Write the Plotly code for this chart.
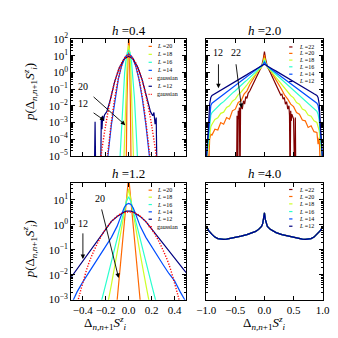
import plotly.graph_objects as go

FONT = "Liberation Serif"
W = H = 338

# ---------------- colours (jet over L = 12..22) ----------------
colors = {22: "#800000", 20: "#ff6800", 18: "#ceff29", 16: "#29ffce", 14: "#004dff", 12: "#000080"}
gauss_color = "#ff0000"

# ---------------- h = 0.4 (top-left), log10 p ----------------
x_h04_L20 = [-0.03, -0.02, -0.015, -0.01, -0.005, 0.0, 0.005, 0.01, 0.015, 0.02, 0.03]
lp_h04_L20 = [-7, -5.0, -1.8, 0.47, 1.84, 2.3, 1.84, 0.47, -1.8, -5.0, -7]
x_h04_L18 = [-0.05, -0.04, -0.035, -0.03, -0.02, -0.01, 0.0, 0.01, 0.02, 0.03, 0.035, 0.04, 0.05]
lp_h04_L18 = [-7, -5.0, -3.45, -2.1, -0.03, 1.22, 1.63, 1.22, -0.03, -2.1, -3.45, -5.0, -7]
x_h04_L16 = [-0.09, -0.075, -0.065, -0.05, -0.035, -0.025, -0.012, 0.0, 0.012, 0.025, 0.035, 0.05, 0.065, 0.075, 0.09]
lp_h04_L16 = [-7, -5.0, -3.44, -1.49, -0.04, 0.64, 1.19, 1.35, 1.19, 0.64, -0.04, -1.49, -3.44, -5.0, -7]
x_h04_L14 = [-0.2, -0.18, -0.15, -0.12, -0.09, -0.06, -0.03, 0.0, 0.03, 0.06, 0.09, 0.12, 0.15, 0.18, 0.2]
lp_h04_L14 = [-7, -4.99, -3.13, -1.61, -0.42, 0.42, 0.93, 1.12, 0.93, 0.42, -0.42, -1.61, -3.13, -4.99, -7]
x_h04_gauss14 = [-0.19, -0.18, -0.15, -0.12, -0.09, -0.06, -0.03, 0.0, 0.03, 0.06, 0.09, 0.12, 0.15, 0.18, 0.19]
lp_h04_gauss14 = [-5.42, -4.75, -2.97, -1.51, -0.38, 0.43, 0.92, 1.08, 0.92, 0.43, -0.38, -1.51, -2.97, -4.75, -5.42]
x_h04_L12 = [-0.3, -0.292, -0.285, -0.245, -0.238, -0.232, -0.226, -0.22, -0.21, -0.19, -0.16, -0.12, -0.08,
             -0.04, 0.0, 0.04, 0.08, 0.12, 0.16, 0.19, 0.21, 0.22, 0.23, 0.24, 0.248, 0.26]
lp_h04_L12 = [-7, -2.95, -7, -7, -2.7, -3.4, -2.6, -2.9, -2.55, -2.35, -1.65, -0.5, 0.3,
              0.8, 0.97, 0.8, 0.3, -0.5, -1.65, -2.35, -2.6, -2.4, -3.1, -2.7, -7, -7]
x_h04_gauss12 = [-0.26, -0.24, -0.2, -0.16, -0.12, -0.08, -0.04, 0.0, 0.04, 0.08, 0.12, 0.16, 0.2, 0.24, 0.26]
lp_h04_gauss12 = [-6.01, -4.98, -3.17, -1.69, -0.53, 0.29, 0.79, 0.95, 0.79, 0.29, -0.53, -1.69, -3.17, -4.98, -6.01]

# ---------------- h = 2.0 (top-right) ----------------
x_h20 = [-1.0, -0.98, -0.96, -0.94, -0.92, -0.9, -0.85, -0.8, -0.75, -0.7, -0.65, -0.6, -0.55, -0.5, -0.45,
         -0.4, -0.35, -0.3, -0.25, -0.2, -0.15, -0.1, -0.05, -0.02, 0.0, 0.02, 0.05, 0.1, 0.15, 0.2, 0.25,
         0.3, 0.35, 0.4, 0.45, 0.5, 0.55, 0.6, 0.65, 0.7, 0.75, 0.8, 0.85, 0.9, 0.92, 0.94, 0.96, 0.98, 1.0]
lp_h20_L12 = [-5.3, -4.4, -3.2, -1.9, -1.5, -1.38, -1.28, -1.17, -1.07, -0.96, -0.86, -0.75, -0.65, -0.55, -0.44,
              -0.34, -0.23, -0.13, -0.02, 0.08, 0.18, 0.29, 0.39, 0.44, 0.49, 0.44, 0.39, 0.29, 0.18, 0.08, -0.02,
              -0.13, -0.23, -0.34, -0.44, -0.55, -0.65, -0.75, -0.86, -0.96, -1.07, -1.17, -1.28, -1.38, -1.5,
              -1.9, -3.2, -4.4, -5.3]
lp_h20_L14 = [-5.3, -4.5, -3.5, -2.4, -1.98, -1.84, -1.71, -1.58, -1.45, -1.32, -1.19, -1.06, -0.93, -0.8, -0.67,
              -0.54, -0.41, -0.28, -0.15, -0.02, 0.11, 0.24, 0.38, 0.5, 0.62, 0.5, 0.38, 0.24, 0.11, -0.02, -0.15,
              -0.28, -0.41, -0.54, -0.67, -0.8, -0.93, -1.06, -1.19, -1.32, -1.45, -1.58, -1.71, -1.84, -1.98,
              -2.4, -3.5, -4.5, -5.3]
lp_h20_L16 = [-5.4, -4.7, -3.8, -2.9, -2.55, -2.4, -2.22, -2.07, -1.88, -1.75, -1.56, -1.42, -1.24, -1.1, -0.92,
              -0.78, -0.6, -0.46, -0.29, -0.13, 0.03, 0.19, 0.36, 0.55, 0.74, 0.55, 0.36, 0.19, 0.03, -0.13, -0.29,
              -0.45, -0.61, -0.77, -0.94, -1.08, -1.26, -1.4, -1.58, -1.72, -1.9, -2.04, -2.21, -2.33, -2.5,
              -2.9, -3.8, -4.7, -5.4]
lp_h20_L18 = [-5.5, -4.9, -4.2, -3.5, -3.25, -3.1, -2.82, -2.72, -2.45, -2.38, -2.1, -2.0, -1.72, -1.6, -1.33,
              -1.17, -0.92, -0.74, -0.51, -0.31, -0.1, 0.12, 0.33, 0.6, 0.87, 0.6, 0.33, 0.12, -0.1, -0.31, -0.53,
              -0.72, -0.96, -1.13, -1.38, -1.52, -1.8, -1.9, -2.2, -2.28, -2.55, -2.62, -2.9, -3.0, -3.3,
              -3.5, -4.2, -4.9, -5.5]
lp_h20_L20 = [-6, -4.6, -6, -4.0, -3.7, -3.75, -3.4, -3.45, -3.0, -3.1, -2.7, -2.8, -2.3, -2.2, -1.8,
              -1.7, -1.3, -1.1, -0.72, -0.45, -0.14, 0.15, 0.3, 0.65, 1.06, 0.65, 0.3, 0.15, -0.16, -0.44, -0.76,
              -1.05, -1.38, -1.6, -1.9, -2.05, -2.4, -2.5, -2.85, -2.9, -3.3, -3.2, -3.55, -3.6, -4.3,
              -3.9, -6, -4.8, -6]
x_h20_L22 = [-0.6, -0.5, -0.48, -0.47, -0.46, -0.45, -0.44, -0.43, -0.42, -0.41, -0.40, -0.38, -0.36, -0.34,
             -0.32, -0.30, -0.28, -0.25, -0.2, -0.15, -0.1, -0.05, -0.02, 0.0, 0.02, 0.05, 0.1, 0.15, 0.2, 0.25,
             0.28, 0.30, 0.32, 0.34, 0.36, 0.38, 0.40, 0.42, 0.43, 0.44, 0.45, 0.46, 0.47, 0.5, 0.52, 0.53, 0.54, 0.6]
lp_h20_L22 = [-7, -7, -7, -2.6, -7, -2.3, -2.8, -2.1, -7, -2.2, -2.0, -2.2, -1.7, -1.9,
              -1.45, -1.55, -1.25, -1.1, -0.75, -0.4, -0.02, 0.35, 0.8, 1.25, 0.8, 0.35, 0.0, -0.38, -0.72, -1.15,
              -1.35, -1.3, -1.6, -1.5, -1.9, -1.75, -2.2, -2.0, -2.6, -7, -2.3, -2.9, -2.5, -2.8, -7, -2.7, -7, -7]

# ---------------- h = 1.2 (bottom-left) ----------------
x_h12 = [-0.5, -0.45, -0.4, -0.35, -0.3, -0.25, -0.2, -0.15, -0.1, -0.08, -0.06, -0.04, -0.02, 0.0,
         0.02, 0.04, 0.06, 0.08, 0.1, 0.15, 0.2, 0.25, 0.3, 0.35, 0.4, 0.45, 0.5]
lp_h12_L12 = [-2.1, -1.78, -1.42, -1.1, -0.8, -0.48, -0.18, 0.14, 0.34, 0.41, 0.47, 0.52, 0.55, 0.56,
              0.55, 0.52, 0.47, 0.41, 0.34, 0.13, -0.16, -0.46, -0.76, -1.05, -1.35, -1.62, -1.92]
lp_h12_L14 = [-3.2, -2.7, -2.3, -1.95, -1.6, -1.25, -0.88, -0.5, -0.05, 0.2, 0.45, 0.68, 0.82, 0.86,
              0.82, 0.68, 0.45, 0.2, -0.05, -0.5, -0.88, -1.25, -1.6, -1.95, -2.25, -2.7, -3.1]
lp_h12_L16 = [-6, -6, -6, -4.2, -3.7, -3.3, -2.4, -1.5, -0.6, -0.22, 0.17, 0.55, 0.93, 1.13,
              0.93, 0.55, 0.17, -0.22, -0.6, -1.5, -2.4, -3.3, -3.7, -4.2, -6, -6, -6]
lp_h12_L18 = [-6, -6, -6, -6, -6, -4.5, -3.6, -2.4, -1.15, -0.62, -0.12, 0.42, 1.0, 1.45,
              1.0, 0.42, -0.12, -0.62, -1.15, -2.4, -3.6, -4.5, -6, -6, -6, -6, -6]
lp_h12_L20 = [-6, -6, -6, -6, -6, -6, -6, -5.5, -3.0, -2.0, -1.0, -0.05, 0.95, 1.95,
              0.95, -0.05, -1.0, -2.0, -3.0, -5.5, -6, -6, -6, -6, -6, -6, -6]
x_h12_gauss = [-0.45, -0.43, -0.4, -0.35, -0.3, -0.25, -0.2, -0.15, -0.1, -0.05, 0.0,
               0.05, 0.1, 0.15, 0.2, 0.25, 0.3, 0.35, 0.4, 0.43, 0.45]
lp_h12_gauss = [-3.2, -2.85, -2.35, -1.58, -1.02, -0.55, -0.17, 0.13, 0.35, 0.48, 0.52,
                0.48, 0.35, 0.13, -0.17, -0.55, -1.02, -1.58, -2.35, -2.85, -3.2]

# ---------------- h = 4.0 (bottom-right): all L collapse ----------------
x_h40 = [-1.0, -0.98, -0.95, -0.9, -0.85, -0.8, -0.75, -0.7, -0.65, -0.6, -0.5, -0.4, -0.3, -0.2, -0.15,
         -0.1, -0.05, -0.03, -0.015, 0.0, 0.015, 0.03, 0.05, 0.1, 0.15, 0.2, 0.3, 0.4, 0.5, 0.6, 0.65,
         0.7, 0.75, 0.8, 0.85, 0.9, 0.95, 0.98, 1.0]
lp_h40 = [-0.05, -0.15, -0.25, -0.38, -0.49, -0.55, -0.58, -0.58, -0.57, -0.55, -0.5, -0.45, -0.39, -0.31, -0.26,
          -0.18, -0.06, 0.05, 0.22, 0.48, 0.22, 0.05, -0.06, -0.18, -0.26, -0.31, -0.39, -0.45, -0.5, -0.55, -0.57,
          -0.58, -0.58, -0.55, -0.49, -0.38, -0.25, -0.15, -0.05]

# ---------------- text ----------------
titles = ["<i>h</i> =0.4", "<i>h</i> =2.0", "<i>h</i> =1.2", "<i>h</i> =4.0"]
ylabel = "<i>p</i>(Δ<sub><i>n,n</i>+1</sub><i>S</i><sup><i>z</i></sup><sub><i>i</i></sub>)"
xlabel = "Δ<sub><i>n,n</i>+1</sub><i>S</i><sup><i>z</i></sup><sub><i>i</i></sub>"
legend_tl = [("L", 20), ("L", 18), ("L", 16), ("L", 14), ("g", 14), ("L", 12), ("g", 12)]
legend_tr = [22, 20, 18, 16, 14, 12]
legend_bl = [("L", 20), ("L", 18), ("L", 16), ("L", 14), ("L", 12), ("g", 12)]
legend_br = [22, 20, 18, 16, 14, 12]

GAUSS_DASH = "1.2px,1.6px"


def P(lp):
    return [10 ** v for v in lp]


fig = go.Figure()


def line(x, lp, color, ax, dash="solid", width=1.2, shape="linear"):
    fig.add_trace(go.Scatter(x=x, y=P(lp), mode="lines", xaxis="x" + ax, yaxis="y" + ax,
                             line=dict(color=color, width=width, dash=dash, shape=shape),
                             showlegend=False, hoverinfo="skip"))


# top-left
line(x_h04_L20, lp_h04_L20, colors[20], "")
line(x_h04_L18, lp_h04_L18, colors[18], "")
line(x_h04_L16, lp_h04_L16, colors[16], "")
line(x_h04_L14, lp_h04_L14, colors[14], "")
line(x_h04_gauss14, lp_h04_gauss14, gauss_color, "", dash=GAUSS_DASH, width=1.4, shape="spline")
line(x_h04_L12, lp_h04_L12, colors[12], "")
line(x_h04_gauss12, lp_h04_gauss12, gauss_color, "", dash=GAUSS_DASH, width=1.4, shape="spline")
# top-right
line(x_h20_L22, lp_h20_L22, colors[22], "2")
line(x_h20, lp_h20_L20, colors[20], "2")
line(x_h20, lp_h20_L18, colors[18], "2")
line(x_h20, lp_h20_L16, colors[16], "2")
line(x_h20, lp_h20_L14, colors[14], "2")
line(x_h20, lp_h20_L12, colors[12], "2")
# bottom-left
line(x_h12, lp_h12_L20, colors[20], "3")
line(x_h12, lp_h12_L18, colors[18], "3")
line(x_h12, lp_h12_L16, colors[16], "3")
line(x_h12, lp_h12_L14, colors[14], "3")
line(x_h12, lp_h12_L12, colors[12], "3")
line(x_h12_gauss, lp_h12_gauss, gauss_color, "3", dash=GAUSS_DASH, width=1.4, shape="spline")
# bottom-right
for L in legend_br:
    line(x_h40, lp_h40, colors[L], "4")

# ---------------- axes ----------------
def px(v):
    return v / W


def py(v):
    return 1 - v / H


colx = [[px(56), px(177)], [px(198), px(321)]]
rowy = [[py(146), py(24)], [py(296), py(174)]]

base = dict(showline=True, linecolor="black", linewidth=1, mirror="allticks", ticks="inside",
            ticklen=4, tickwidth=0.8, tickcolor="black", showgrid=False, zeroline=False,
            tickfont=dict(family=FONT, size=11, color="black"))


def logy(lo, hi):
    vals = [10.0 ** k for k in range(lo, hi + 1)]
    txt = ["10<sup>%s%d</sup>" % ("−" if k < 0 else "", abs(k)) for k in range(lo, hi + 1)]
    minor = [m * 10.0 ** k for k in range(lo, hi + 1) for m in range(2, 10)]
    return dict(type="log", tickmode="array", tickvals=vals, ticktext=txt,
                minor=dict(tickmode="array", tickvals=minor, ticks="inside", ticklen=2,
                           tickwidth=0.6, tickcolor="black", showgrid=False))


top_y = logy(-5, 2)
bot_y = logy(-3, 1)

fig.update_layout(
    width=W, height=H, margin=dict(l=0, r=0, t=0, b=0),
    paper_bgcolor="white", plot_bgcolor="white",
    xaxis=dict(base, domain=colx[0], anchor="y", range=[-0.5, 0.5], tickmode="array",
               tickvals=[-0.4, -0.2, 0, 0.2, 0.4], showticklabels=False),
    yaxis=dict(base, **top_y, domain=rowy[0], anchor="x", range=[-5.005, 2.005]),
    xaxis2=dict(base, domain=colx[1], anchor="y2", range=[-1.002, 1.002], tickmode="array",
                tickvals=[-1, -0.5, 0, 0.5, 1], showticklabels=False),
    yaxis2=dict(base, **top_y, domain=rowy[0], anchor="x2", range=[-5.005, 2.005], showticklabels=False),
    xaxis3=dict(base, domain=colx[0], anchor="y3", range=[-0.5, 0.5], tickmode="array",
                tickvals=[-0.4, -0.2, 0, 0.2, 0.4], tickformat=".1f"),
    yaxis3=dict(base, **bot_y, domain=rowy[1], anchor="x3", range=[-3.005, 1.69]),
    xaxis4=dict(base, domain=colx[1], anchor="y4", range=[-1.002, 1.002], tickmode="array",
                tickvals=[-1, -0.5, 0, 0.5, 1], tickformat=".1f"),
    yaxis4=dict(base, **bot_y, domain=rowy[1], anchor="x4", range=[-3.005, 1.69], showticklabels=False),
)

ann = []
shapes = []
# panel titles
for t, (cx, cy) in zip(titles, [(116.5, 15), (259.5, 15), (116.5, 164), (259.5, 164)]):
    ann.append(dict(text=t, x=px(cx), y=py(cy), xref="paper", yref="paper", showarrow=False,
                    font=dict(family=FONT, size=13, color="black"), xanchor="center", yanchor="middle"))
# axis labels
for cy in (79, 243):
    ann.append(dict(text=ylabel, x=px(12), y=py(cy), xref="paper", yref="paper", showarrow=False,
                    textangle=-90, font=dict(family=FONT, size=13, color="black"),
                    xanchor="center", yanchor="middle"))
for cx in (92, 259.5):
    ann.append(dict(text=xlabel, x=px(cx), y=py(320), xref="paper", yref="paper", showarrow=False,
                    font=dict(family=FONT, size=13, color="black"), xanchor="center", yanchor="middle"))


# legends
def legend(entries, rows, mx0, mx1, tx):
    for (kind, L), ry in zip(entries, rows):
        if kind == "L":
            col, dash, label = colors[L], "solid", "<i>L</i> =%d" % L
        else:
            col, dash, label = gauss_color, "1px,1.2px", "gaussian"
        shapes.append(dict(type="line", xref="paper", yref="paper", x0=px(mx0), x1=px(mx1),
                           y0=py(ry), y1=py(ry), line=dict(color=col, width=1.2, dash=dash)))
        ann.append(dict(text=label, x=px(tx), y=py(ry), xref="paper", yref="paper", showarrow=False,
                        font=dict(family=FONT, size=6, color="black"), xanchor="left", yanchor="middle"))


legend(legend_tl, [31.7, 40, 48.3, 56.7, 65, 73.3, 81.7], 137.5, 141, 144.3)
legend([("L", L) for L in legend_tr], [32.3, 39, 46, 53, 60.7, 68.3], 285.5, 289, 294.3)
legend(legend_bl, [181.7, 189, 196.7, 204.3, 212, 219.7], 137.5, 141, 144.3)
legend([("L", L) for L in legend_br], [181, 188.3, 196, 204, 211.7, 219.3], 285.5, 289, 294.3)


# arrows and their labels (data coordinates, log10 for y)
def arrow(ax_id, head, tail):
    ann.append(dict(x=head[0], y=head[1], ax=tail[0], ay=tail[1], xref="x" + ax_id, yref="y" + ax_id,
                    axref="x" + ax_id, ayref="y" + ax_id, text="", showarrow=True, arrowhead=2,
                    arrowsize=1, arrowwidth=0.9, arrowcolor="black", standoff=0, startstandoff=0))


def label(ax_id, pos, text):
    ann.append(dict(x=pos[0], y=pos[1], xref="x" + ax_id, yref="y" + ax_id, text=text, showarrow=False,
                    font=dict(family=FONT, size=10, color="black"), xanchor="center", yanchor="middle"))


label("", (-0.40, -0.85), "20")
label("", (-0.40, -1.86), "12")
arrow("", (-0.029, -3.16), (-0.318, -1.385))
arrow("", (-0.21, -2.88), (-0.318, -2.36))
label("2", (-0.80, 1.18), "12")
label("2", (-0.496, 1.18), "22")
arrow("2", (-0.789, -0.94), (-0.789, 0.58))
arrow("2", (-0.393, -2.13), (-0.491, 0.58))
label("3", (-0.252, 1.06), "20")
label("3", (-0.40, 0.036), "12")
arrow("3", (-0.087, -2.13), (-0.238, 0.68))
arrow("3", (-0.398, -1.37), (-0.398, -0.28))

fig.update_layout(annotations=ann, shapes=shapes)
fig.write_html("out.html")
